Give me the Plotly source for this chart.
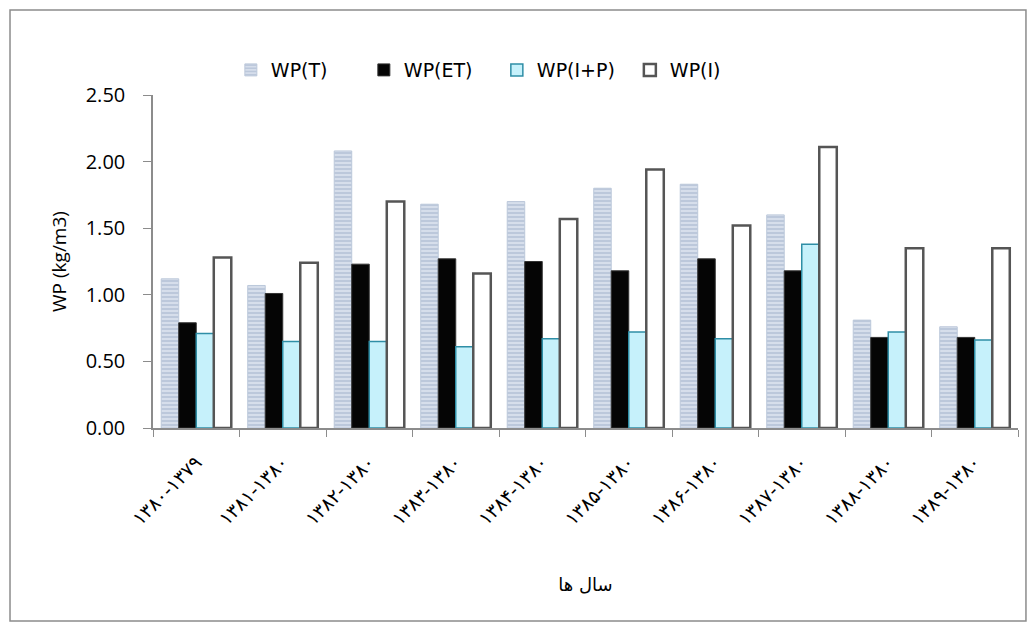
import plotly.graph_objects as go

categories = ["۱۳۸۰-۱۳۷۹", "۱۳۸۱-۱۳۸۰", "۱۳۸۲-۱۳۸۰", "۱۳۸۳-۱۳۸۰", "۱۳۸۴-۱۳۸۰",
              "۱۳۸۵-۱۳۸۰", "۱۳۸۶-۱۳۸۰", "۱۳۸۷-۱۳۸۰", "۱۳۸۸-۱۳۸۰", "۱۳۸۹-۱۳۸۰"]
wp_t = [1.12, 1.07, 2.08, 1.68, 1.70, 1.80, 1.83, 1.60, 0.81, 0.76]
wp_et = [0.79, 1.01, 1.23, 1.27, 1.25, 1.18, 1.27, 1.18, 0.68, 0.68]
wp_ip = [0.71, 0.65, 0.65, 0.61, 0.67, 0.72, 0.67, 1.38, 0.72, 0.66]
wp_i = [1.28, 1.24, 1.70, 1.16, 1.57, 1.94, 1.52, 2.11, 1.35, 1.35]

fig = go.Figure()
fig.add_trace(go.Bar(name="WP(T)", x=categories, y=wp_t,
                     marker=dict(color="#d6deeb", line=dict(color="#bcc8da", width=1),
                                 pattern=dict(shape="-", fgcolor="#96a8c4", size=4, solidity=0.4))))
fig.add_trace(go.Bar(name="WP(ET)", x=categories, y=wp_et,
                     marker=dict(color="#050505", line=dict(color="#333333", width=1))))
fig.add_trace(go.Bar(name="WP(I+P)", x=categories, y=wp_ip,
                     marker=dict(color="#c6f1fb", line=dict(color="#2f8ea6", width=1.5))))
fig.add_trace(go.Bar(name="WP(I)", x=categories, y=wp_i,
                     marker=dict(color="#ffffff", line=dict(color="#555555", width=2.5))))

fig.update_layout(
    width=1036, height=630,
    barmode="group", bargap=0.19, bargroupgap=0.0,
    paper_bgcolor="white", plot_bgcolor="white",
    margin=dict(l=145, r=26, t=87, b=210),
    font=dict(family="Open Sans, DejaVu Sans, sans-serif", color="black"),
    legend=dict(orientation="h", x=0.09, y=1.075, xanchor="left", yanchor="middle",
                font=dict(size=19, family="DejaVu Sans, sans-serif"),
                itemwidth=30, entrywidth=88, entrywidthmode="pixels",
                tracegroupgap=0, bgcolor="rgba(0,0,0,0)"),
    shapes=[dict(type="rect", xref="paper", yref="paper",
                 x0=-0.1653, x1=1.0092, y0=-0.5796, y1=1.255,
                 line=dict(color="#8c8c8c", width=1.5), fillcolor="rgba(0,0,0,0)", layer="below")],
)
fig.update_xaxes(
    type="category", tickangle=-45, tickson="boundaries", ticks="outside",
    ticklen=7, tickcolor="#8c8c8c", showline=True, linecolor="#8c8c8c", linewidth=1.5,
    showgrid=False, ticklabelstandoff=14,
    tickfont=dict(size=19, family="DejaVu Sans, sans-serif"),
    title=dict(text="سال ها", font=dict(size=18, family="DejaVu Sans, sans-serif"), standoff=50),
)
fig.update_yaxes(
    range=[0, 2.5], dtick=0.5, tickformat=".2f", ticks="outside", ticklen=8,
    tickcolor="#8c8c8c", showline=True, linecolor="#8c8c8c", linewidth=1.5,
    showgrid=False, zeroline=False, tickfont=dict(size=20), ticklabelstandoff=14,
    title=dict(text="WP (kg/m3)", font=dict(size=19), standoff=14),
)

fig.write_html("out.html")
